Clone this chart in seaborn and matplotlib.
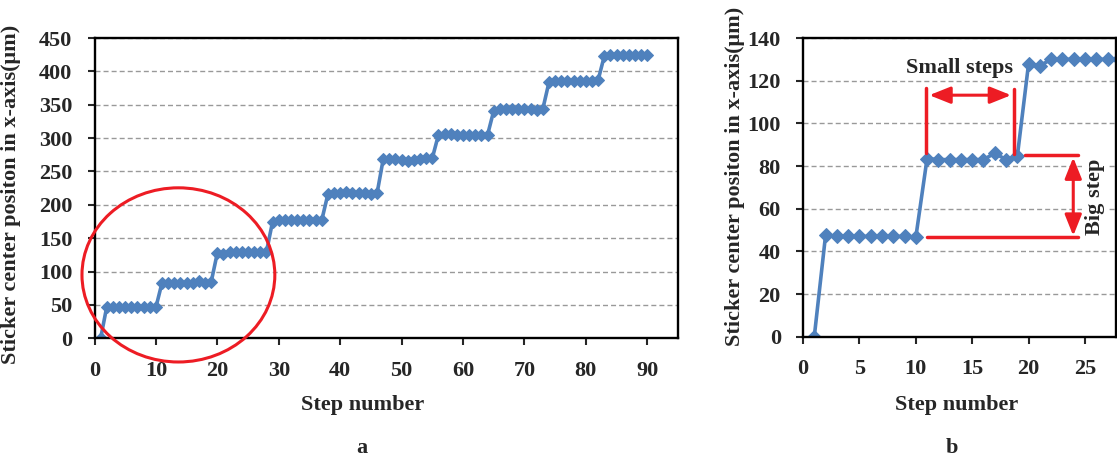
import matplotlib
matplotlib.use('Agg')
import matplotlib.pyplot as plt
import seaborn as sns
from matplotlib.patches import Ellipse

# Sticker position after each step (um)
steps = list(range(1, 91))
position = [0,
            47.5, 47, 47, 47, 47, 47, 47, 47, 46.5,
            83.5, 83, 83, 83, 83, 83, 86, 83, 84.5,
            128, 127, 130, 130, 130, 130, 130, 130, 130,
            175, 177, 177, 177, 177, 177, 177, 177, 177,
            216, 218, 218, 219, 218, 218, 217, 216, 217,
            268, 269, 268, 267, 265, 267, 269, 270, 270,
            305, 306, 306, 305, 305, 305, 304, 304, 305,
            341, 344, 344, 344, 344, 343, 343, 342, 344,
            384, 386, 386, 386, 386, 386, 386, 386, 387,
            423, 424, 424, 424, 424, 424, 424, 424]

# zoomed view (panel b) uses the first 28 steps
zoom_n = 28

ylabel = 'Sticker center positon in x-axis(\u03bcm)'
xlabel = 'Step number'

sns.set_style('white')
plt.rcParams['font.family'] = ['Liberation Serif', 'DejaVu Serif']
plt.rcParams['font.weight'] = 'bold'
fs = 16
plt.rcParams['font.size'] = fs

line_color = '#4F81BD'
red = '#ED1C24'
W, H = 1117, 459

fig = plt.figure(figsize=(W / 100, H / 100), dpi=100)
ax1 = fig.add_axes([94.5 / W, 1 - 338.3 / H, 583.5 / W, 300.3 / H])
ax2 = fig.add_axes([803 / W, 1 - 336.7 / H, 313 / W, 298.7 / H])


def style_axis(ax):
    ax.set_axisbelow(True)
    ax.yaxis.grid(True, linestyle=(0, (3.6, 2.2)), color='#999999', linewidth=1)
    ax.xaxis.grid(False)
    for s in ax.spines.values():
        s.set_color('black')
        s.set_linewidth(1.7)
    ax.tick_params(axis='both', direction='out', length=5, width=1.5,
                   labelsize=fs, pad=11, left=True, bottom=True)
    for lab in ax.get_xticklabels() + ax.get_yticklabels():
        lab.set_fontweight('bold')


# Panel a
sns.lineplot(x=steps, y=position, ax=ax1, color=line_color, linewidth=2.6,
             marker='D', markersize=6, markeredgecolor=line_color)
ax1.set_xlim(0, 95)
ax1.set_ylim(0, 450)
ax1.set_xticks(range(0, 91, 10))
ax1.set_yticks(range(0, 451, 50))
style_axis(ax1)
ax1.set_xlabel(xlabel, fontsize=fs, fontweight='bold')
ax1.xaxis.set_label_coords(0.46, -0.222)
ax1.xaxis.label.set_va('center')
ax1.set_ylabel(ylabel, fontsize=fs, fontweight='bold')
ax1.yaxis.set_label_coords(-0.143, 0.48)
ax1.yaxis.label.set_va('center')

circle = Ellipse((13.66, 95), width=31.4, height=261, fill=False,
                 edgecolor=red, linewidth=2.2, clip_on=False, zorder=5)
ax1.add_patch(circle)

# Panel b
sns.lineplot(x=steps[:zoom_n], y=position[:zoom_n], ax=ax2, color=line_color,
             linewidth=2.6, marker='D', markersize=7, markeredgecolor=line_color)
ax2.set_xlim(0, 27.75)
ax2.set_ylim(0, 140)
ax2.set_xticks(range(0, 26, 5))
ax2.set_yticks(range(0, 141, 20))
style_axis(ax2)
ax2.set_xlabel(xlabel, fontsize=fs, fontweight='bold')
ax2.xaxis.set_label_coords(0.492, -0.229)
ax2.xaxis.label.set_va('center')
ax2.set_ylabel(ylabel, fontsize=fs, fontweight='bold')
ax2.yaxis.set_label_coords(-0.217, 0.538)
ax2.yaxis.label.set_va('center')

# annotations in panel b
arrow = dict(arrowstyle='<|-|>,head_length=0.8,head_width=0.32', color=red,
             lw=2.2, shrinkA=0, shrinkB=0)
ax2.plot([10.9, 10.9], [86.3, 116.4], color=red, lw=2.5, zorder=6)
ax2.plot([18.7, 18.7], [85.6, 116], color=red, lw=2.5, zorder=6)
ax2.annotate('', xy=(11.2, 113.2), xytext=(18.45, 113.2), arrowprops=arrow)
ax2.text(13.9, 125.8, 'Small steps', ha='center', va='center',
         fontsize=fs, fontweight='bold', zorder=7)
ax2.plot([19.7, 24.4], [85.2, 85.2], color=red, lw=2.5, zorder=6)
ax2.plot([10.97, 24.4], [46.6, 46.6], color=red, lw=2.5, zorder=6)
ax2.annotate('', xy=(23.96, 84), xytext=(23.96, 47.3), arrowprops=arrow)
ax2.text(25.9, 65.6, 'Big step', rotation=90, ha='center', va='center',
         fontsize=fs, fontweight='bold', zorder=7,
         bbox=dict(facecolor='white', edgecolor='none', pad=2))

fig.text(362 / W, 1 - 448 / H, 'a', ha='center', va='center',
         fontsize=fs, fontweight='bold')
fig.text(952 / W, 1 - 448 / H, 'b', ha='center', va='center',
         fontsize=fs, fontweight='bold')

fig.savefig('out.png', dpi=100)
